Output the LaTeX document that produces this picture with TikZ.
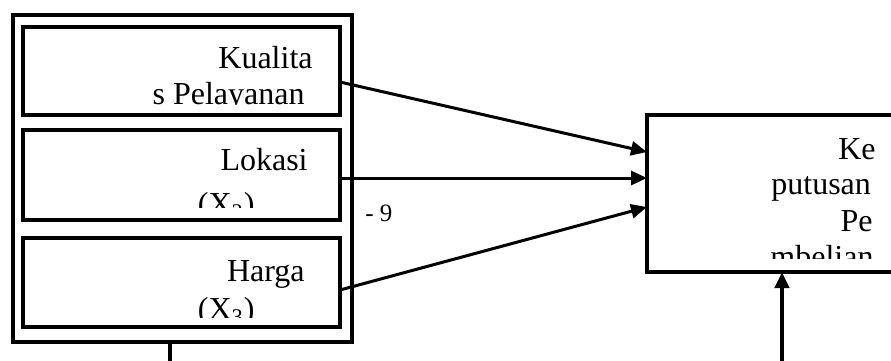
\documentclass[tikz,border=0pt]{standalone}
\usepackage{fontspec}
\setmainfont{Liberation Serif}
\usetikzlibrary{arrows.meta,fit}
\begin{document}
\begin{tikzpicture}[x=0.5pt,y=-0.5pt,
  box/.style={draw,line width=2pt,inner sep=0pt,fit=#1},
  lbl/.style={font=\fontsize{16}{18}\selectfont,inner sep=0pt,anchor=base east},
  lblw/.style={font=\fontsize{16}{18}\selectfont,inner sep=0pt,anchor=base west},
  conn/.style={line width=1.5pt,-{Triangle[length=8pt,width=7pt]}},
  plain/.style={line width=2pt}]
\useasboundingbox (0,0) rectangle (891,360);
\clip (0,0) rectangle (891,360);
% corner coordinates
\coordinate (o1) at (13,15);  \coordinate (o2) at (352,342);
\coordinate (a1) at (23,27);  \coordinate (a2) at (340,115);
\coordinate (b1) at (23,130); \coordinate (b2) at (340,220);
\coordinate (c1) at (23,238); \coordinate (c2) at (340,327);
\coordinate (d1) at (647,115); \coordinate (d2) at (920,272);
% boxes
\node[box={(o1)(o2)}] (outer) {};
\node[box={(a1)(a2)}] (kual) {};
\node[box={(b1)(b2)}] (lok) {};
\node[box={(c1)(c2)}] (harga) {};
\node[box={(d1)(d2)}] (kep) {};
% texts (clipped like the original)
\begin{scope}
  \clip (23,27) rectangle (340,104);
  \node[lbl] (t1) at (313,68) {Kualita};
  \node[lbl] (t2) at (305,104) {s Pelayanan};
\end{scope}
\begin{scope}
  \clip (23,130) rectangle (340,207);
  \node[lbl] (t3) at (308,170) {Lokasi};
  \node[lbl] (t4) at (255,214) {(X\textsubscript{2})};
\end{scope}
\begin{scope}
  \clip (23,238) rectangle (340,317);
  \node[lbl] (t5) at (305,281) {Harga};
  \node[lbl] (t6) at (255,319) {(X\textsubscript{3})};
\end{scope}
\begin{scope}
  \clip (647,115) rectangle (891,258);
  \node[lbl] (t7) at (876,159) {Ke};
  \node[lblw] (t8) at (771,194) {putusan};
  \node[lbl] (t9) at (873,231) {Pe};
  \node[lblw] (t10) at (770,267) {mbelian};
\end{scope}
\node[font=\fontsize{12.5}{14}\selectfont,inner sep=0pt,anchor=base west] (nine) at (365,221) {- 9};
% connector anchors
\coordinate (s1) at (340,82);
\coordinate (s2) at (340,178);
\coordinate (s3) at (340,290);
\coordinate (e1) at (647,152);
\coordinate (e2) at (647,178);
\coordinate (e3) at (647,207);
\coordinate (bot1) at (170,362);
\coordinate (bot2) at (782,362);
\coordinate (kb) at (782,272);
\coordinate (ob) at (170,342);
\draw[conn] (s1) -- (e1);
\draw[conn] (s2) -- (e2);
\draw[conn] (s3) -- (e3);
\draw[plain] (ob) -- (bot1);
\draw[conn,line width=2pt] (bot2) -- (kb);
\end{tikzpicture}
\end{document}
